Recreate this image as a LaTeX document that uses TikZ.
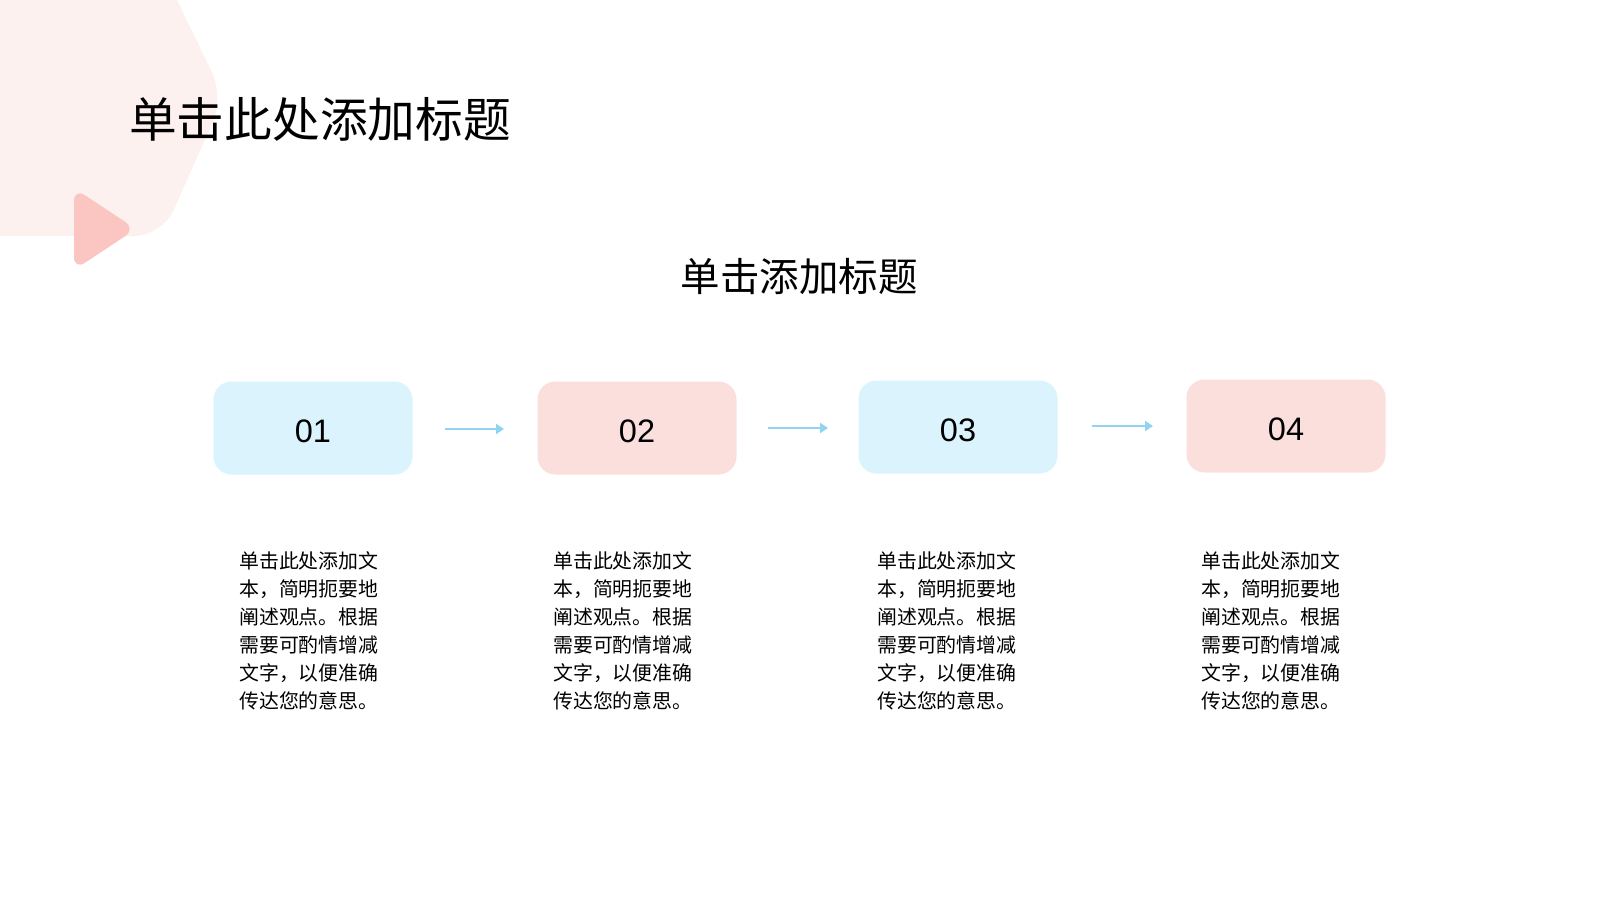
\documentclass[tikz,border=0pt]{standalone}
\usepackage{fontspec}
\setmainfont{Noto Sans CJK SC}
\newfontfamily\numfont{Liberation Sans}
\usetikzlibrary{arrows.meta}
\definecolor{bluebox}{HTML}{DAF3FD}
\definecolor{pinkbox}{HTML}{FADFDC}
\definecolor{arrowblue}{HTML}{8FD5F2}
\definecolor{bgpink}{HTML}{FDF1F0}
\definecolor{tripink}{HTML}{FBC6C1}
\newcommand{\stepnum}[1]{\raisebox{0pt}[29.5pt][0pt]{#1}}
\tikzset{
  stepbox/.style={rounded corners=18pt, minimum width=199pt, minimum height=93pt, inner sep=0pt, font=\numfont\fontsize{32.5}{36}\selectfont},
  bluestep/.style={stepbox, fill=bluebox},
  pinkstep/.style={stepbox, fill=pinkbox},
  flow/.style={draw=arrowblue, line width=2.8pt, -{Triangle[length=8pt,width=10pt]}},
  desc/.style={anchor=north west, align=left, inner sep=0pt, font=\fontsize{19.9}{28}\selectfont}
}
\begin{document}
\begin{tikzpicture}[x=1pt,y=-1pt]
\useasboundingbox (0,0) rectangle (1598,900);
\fill[white] (0,0) rectangle (1598,900);
\begin{scope}
\clip (0,0) rectangle (1598,900);
\fill[bgpink, rounded corners=28pt] (-100,-80) -- (138,-80) -- (224,97) -- (162,236) -- (-100,236) -- cycle;
\end{scope}
\fill[tripink, rounded corners=13pt] (74,188) -- (136,229) -- (74,270) -- cycle;
\node[anchor=west, inner sep=0pt, font=\fontsize{47.7}{52}\selectfont] (title) at (129,119) {单击此处添加标题};
\node[inner sep=0pt, font=\fontsize{39.5}{44}\selectfont] (sub) at (799,277) {单击添加标题};
\node[bluestep] (b1) at (313,428) {\stepnum{01}};
\node[pinkstep] (b2) at (637,428) {\stepnum{02}};
\node[bluestep] (b3) at (958,427) {\stepnum{03}};
\node[pinkstep] (b4) at (1286,426) {\stepnum{04}};
\coordinate (a1s) at (445,429); \coordinate (a1e) at (504,429);
\coordinate (a2s) at (768,428); \coordinate (a2e) at (828,428);
\coordinate (a3s) at (1092,426); \coordinate (a3e) at (1153,426);
\draw[flow] (a1s) -- (a1e);
\draw[flow] (a2s) -- (a2e);
\draw[flow] (a3s) -- (a3e);
\foreach \n/\x in {1/239,2/553,3/877,4/1201}{
  \node[desc] (d\n) at (\x,551) {单击此处添加文\\本，简明扼要地\\阐述观点。根据\\需要可酌情增减\\文字，以便准确\\传达您的意思。};
}
\end{tikzpicture}
\end{document}
